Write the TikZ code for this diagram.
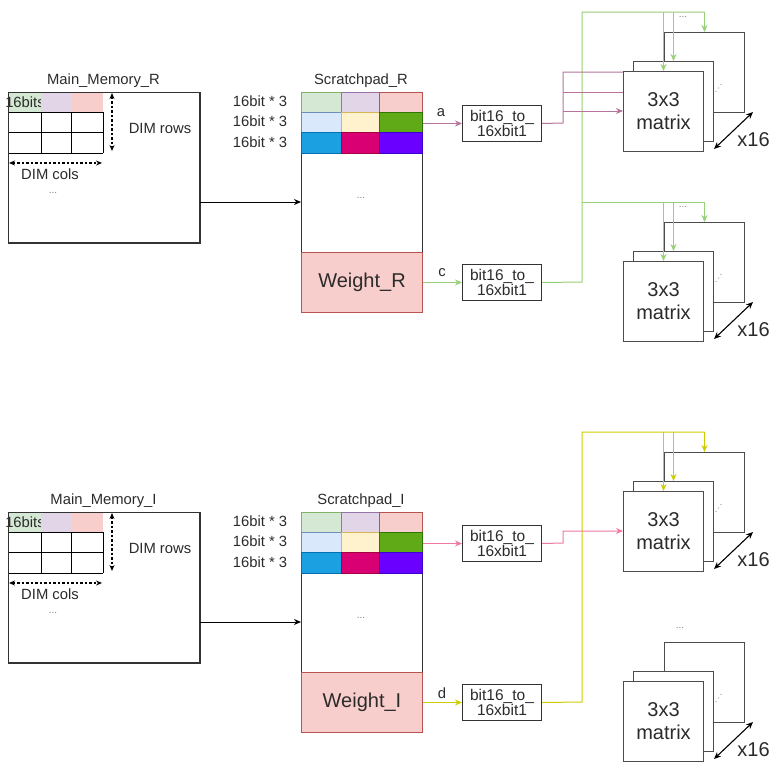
\documentclass[tikz,border=0pt]{standalone}
\usepackage{fontspec}
\setmainfont{Liberation Sans}
\usetikzlibrary{arrows.meta,calc}
\definecolor{txt}{HTML}{2B2B2B}
\definecolor{bxc}{HTML}{333333}
\definecolor{gA}{HTML}{D5E8D4}\definecolor{gAs}{HTML}{82B366}
\definecolor{pA}{HTML}{E1D5E7}\definecolor{pAs}{HTML}{9673A6}
\definecolor{rA}{HTML}{F8CECC}\definecolor{rAs}{HTML}{B85450}
\definecolor{bA}{HTML}{DAE8FC}\definecolor{bAs}{HTML}{6C8EBF}
\definecolor{yA}{HTML}{FFF2CC}\definecolor{yAs}{HTML}{D6B656}
\definecolor{gB}{HTML}{60A917}\definecolor{gBs}{HTML}{2D7600}
\definecolor{bB}{HTML}{1BA1E2}\definecolor{bBs}{HTML}{006EAF}
\definecolor{mB}{HTML}{D80073}\definecolor{mBs}{HTML}{A50040}
\definecolor{vB}{HTML}{6A00FF}\definecolor{vBs}{HTML}{3700CC}
\definecolor{lnP}{HTML}{B5739D}
\definecolor{lnK}{HTML}{F0789F}
\definecolor{lnG}{HTML}{97D077}
\definecolor{lnY}{HTML}{CCCC00}
\tikzset{
  boxst/.style={draw=bxc, line width=1pt, fill=white, inner sep=0pt, anchor=north west},
  lbl/.style={text=txt, inner sep=0pt, font=\fontsize{14.8}{16}\selectfont},
  bigt/.style={text=txt, inner sep=0pt, font=\fontsize{20}{23}\selectfont, align=center},
  dots/.style={text=gray, inner sep=0pt, font=\fontsize{10}{10}\selectfont},
  cell/.style 2 args={fill=#1, draw=#2, line width=0.8pt},
  tip/.style={-{Stealth[length=7pt,width=6pt]}},
  dtip/.style={{Stealth[length=6pt,width=5pt]}-{Stealth[length=6pt,width=5pt]}, dash pattern=on 2.5pt off 2pt, line width=1.1pt, draw=black},
  conv/.style={boxst, minimum width=79pt, minimum height=36pt, align=center, text=txt, font=\fontsize{15.5}{14.5}\selectfont},
  mbox/.style={draw=black!70, line width=1pt, fill=white, inner sep=0pt, anchor=north west, minimum width=80pt, minimum height=80pt},
  wire/.style={line width=1pt},
}
\newcommand\memsec[3]{%
  \node[boxst, minimum width=191pt, minimum height=150pt] (#3mm) at (8,{92+#1}) {};
  \node[lbl] (#3mmt) at (103.5,{81+#1}) {Main\_Memory\_#2};
  \fill[gA] (8,{92+#1}) rectangle (41,{112+#1});
  \node[lbl] (#3bits) at (25,{102+#1}) {16bits};
  \fill[pA] (41,{92+#1}) rectangle (71,{112+#1});
  \fill[rA] (71,{92+#1}) rectangle (103,{112+#1});
  \foreach \yy in {112,132,153} \draw[line width=1pt] (8,{\yy+#1}) -- (103,{\yy+#1});
  \foreach \xx in {41,71,103} \draw[line width=1pt] (\xx,{112+#1}) -- (\xx,{153+#1});
  \draw[draw=bxc, line width=1pt] (#3mm.north west) rectangle (#3mm.south east);
  \coordinate (#3r1) at (112,{93+#1});
  \coordinate (#3r2) at (112,{151+#1});
  \draw[dtip] (#3r1) -- (#3r2);
  \node[lbl] (#3rows) at (160,{128+#1}) {DIM rows};
  \coordinate (#3c1) at (9,{163+#1});
  \coordinate (#3c2) at (102,{163+#1});
  \draw[dtip] (#3c1) -- (#3c2);
  \node[lbl] (#3cols) at (50,{174+#1}) {DIM cols};
  \node[dots] (#3mmd) at (53,{193+#1}) {...};
  \node[boxst, minimum width=121pt, minimum height=220pt] (#3sp) at (301,{92+#1}) {};
  \node[lbl] (#3spt) at (361,{81+#1}) {Scratchpad\_#2};
  \draw[cell={gA}{gAs}] (301,{92+#1}) rectangle (341,{112+#1});
  \draw[cell={pA}{pAs}] (341,{92+#1}) rectangle (379,{112+#1});
  \draw[cell={rA}{rAs}] (379,{92+#1}) rectangle (422,{112+#1});
  \draw[cell={bA}{bAs}] (301,{112+#1}) rectangle (341,{132+#1});
  \draw[cell={yA}{yAs}] (341,{112+#1}) rectangle (379,{132+#1});
  \draw[cell={gB}{gBs}] (379,{112+#1}) rectangle (422,{132+#1});
  \draw[cell={bB}{bBs}] (301,{132+#1}) rectangle (341,{153+#1});
  \draw[cell={mB}{mBs}] (341,{132+#1}) rectangle (379,{153+#1});
  \draw[cell={vB}{vBs}] (379,{132+#1}) rectangle (422,{153+#1});
  \node[lbl] (#3l1) at (260,{101+#1}) {16bit * 3};
  \node[lbl] (#3l2) at (260,{121+#1}) {16bit * 3};
  \node[lbl] (#3l3) at (260,{142+#1}) {16bit * 3};
  \node[dots] (#3spd) at (361,{198+#1}) {...};
  \node[boxst, fill=rA, draw=rAs, minimum width=121pt, minimum height=60pt, text=txt, font=\fontsize{20}{23}\selectfont] (#3w) at (301,{252+#1}) {Weight\_#2};
  \node[conv] (#3cv1) at (462,{105+#1}) {bit16\_to\_\\16xbit1};
  \node[conv] (#3cv2) at (462,{264+#1}) {bit16\_to\_\\16xbit1};
  \coordinate (#3ay) at (250,{202+#1});
  \draw[wire, tip] (#3mm.east |- #3ay) -- (#3sp.west |- #3ay);
}
\newcommand\mstack[2]{%
  \node[mbox] (#1b) at (664,{32+#2}) {};
  \node[mbox] (#1m) at (633,{61+#2}) {};
  \node[mbox, text=txt, font=\fontsize{20}{23}\selectfont, align=center] (#1f) at (623,{71+#2}) {3x3\\matrix};
  \fill[gray!80] (716,{91.5+#2}) circle (0.55pt) (718.5,{88+#2}) circle (0.55pt) (721,{84.5+#2}) circle (0.55pt);
  \coordinate (#1d1) at (714,{149+#2});
  \coordinate (#1d2) at (753,{112+#2});
  \draw[line width=1.1pt, {Stealth[length=7pt,width=6pt]}-{Stealth[length=7pt,width=6pt]}] (#1d1) -- (#1d2);
  \node[bigt] (#1x) at (753.5,{140+#2}) {x16};
}
\begin{document}
\begin{tikzpicture}[x=1pt,y=-1pt]
\useasboundingbox (0,0) rectangle (770,772);
\memsec{0}{R}{r}
\memsec{420}{I}{i}
\mstack{a}{0}
\mstack{b}{190}
\mstack{c}{420}
\mstack{e}{610}
\node[dots] (adots) at (683,17) {...};
\node[dots] (bdots) at (683,207) {...};
\node[dots] (edots) at (680,628) {...};
% ---- top section wires
\draw[wire, tip, draw=lnP] (rsp.east |- rcv1.west) -- (rcv1.west);
\node[lbl] (la) at (441,113) {a};
\draw[wire, tip, draw=lnG] (rw.east) -- (rcv2.west);
\node[lbl] (lc) at (442,273) {c};
\coordinate (gbot) at (582,282);
\coordinate (gtop) at (582,12);
\coordinate (gmid) at (582,202);
\draw[wire, draw=lnG] (rcv2.east) -- (gbot) -- (gtop) -- (ab.north |- gtop);
\draw[wire, draw=lnG] (gmid) -- (bb.north |- gmid);
\draw[wire, tip, draw=lnG] (af.north |- gtop) -- (af.north);
\draw[wire, tip, draw=lnG] (am.north |- gtop) -- (am.north);
\draw[wire, tip, draw=lnG] (ab.north |- gtop) -- (ab.north);
\draw[wire, tip, draw=lnG] (bf.north |- gmid) -- (bf.north);
\draw[wire, tip, draw=lnG] (bm.north |- gmid) -- (bm.north);
\draw[wire, tip, draw=lnG] (bb.north |- gmid) -- (bb.north);
\coordinate (pk0) at (563,123);
\coordinate (pk1) at (563,72);
\coordinate (pk2) at (563,92);
\coordinate (pk3) at (563,111);
\draw[wire, draw=lnP] (rcv1.east) -- (pk0) -- (pk1) -- (af.west |- pk1);
\draw[wire, draw=lnP] (pk2) -- (af.west |- pk2);
\draw[wire, tip, draw=lnP] (pk3) -- (af.west |- pk3);
% ---- bottom section wires
\draw[wire, tip, draw=lnK] (isp.east |- icv1.west) -- (icv1.west);
\draw[wire, tip, draw=lnY] (iw.east) -- (icv2.west);
\node[lbl] (ld) at (442,693) {d};
\coordinate (ybot) at (582,702);
\coordinate (ytop) at (582,432);
\draw[wire, draw=lnY] (icv2.east) -- (ybot) -- (ytop) -- (cb.north |- ytop);
\draw[wire, tip, draw=lnY] (cf.north |- ytop) -- (cf.north);
\draw[wire, tip, draw=lnY] (cm.north |- ytop) -- (cm.north);
\draw[wire, tip, draw=lnY] (cb.north |- ytop) -- (cb.north);
\coordinate (kk0) at (563,543);
\coordinate (kk1) at (563,531);
\draw[wire, tip, draw=lnK] (icv1.east) -- (kk0) -- (kk1) -- (cf.west |- kk1);
\end{tikzpicture}
\end{document}
